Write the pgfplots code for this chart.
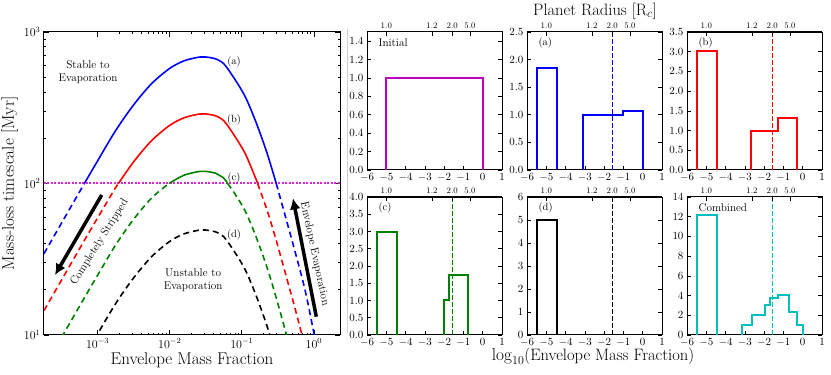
\documentclass[border=0pt]{standalone}
\usepackage{pgfplots}
\pgfplotsset{compat=1.18}
\usetikzlibrary{arrows.meta}
\definecolor{mplb}{rgb}{0,0,1}
\definecolor{mplr}{rgb}{1,0,0}
\definecolor{mplg}{rgb}{0,0.5,0}
\definecolor{mplc}{rgb}{0,0.75,0.75}
\definecolor{mplm}{rgb}{0.75,0,0.75}
\definecolor{dotm}{rgb}{0.85,0.15,0.85}
\pgfplotsset{
  fr/.style={axis line style={line width=1pt}, tick style={black, line width=0.7pt}},
  hist/.style={fr, scale only axis, width=135pt, height=138pt, anchor=south west,
    xmin=-6, xmax=1, ymin=0, xtick={-6,-5,...,1}, xtick pos=bottom, ytick pos=both,
    major tick length=4pt,
    tick label style={font=\fontsize{10.5}{12}\selectfont}},
  dec/.style={yticklabel style={/pgf/number format/.cd, fixed, fixed zerofill, precision=1}},
  histtop/.style={scale only axis, width=135pt, height=138pt, anchor=south west,
    xmin=-6, xmax=1, ymin=0, ymax=1, axis x line*=top, axis y line=none,
    axis line style={line width=1pt}, tick style={black, line width=0.7pt}, major tick length=4pt,
    xtick={-5,-2.63,-1.58,-0.66}, xticklabels={1.0,1.2,2.0,5.0},
    xticklabel style={font=\fontsize{8.5}{10}\selectfont}},
  hl/.style={line width=2pt, no marks},
  vl/.style={line width=0.9pt, dash pattern=on 4.5pt off 2.5pt, no marks},
  cs/.style={line width=1.6pt, no marks, smooth},
  cd/.style={line width=1.6pt, no marks, smooth, dash pattern=on 6pt off 4pt},
}
\begin{document}
\begin{tikzpicture}
\useasboundingbox (0,0) rectangle (831pt,375pt);
\draw[black!18, line width=0.8pt] (347pt,42pt) -- (347pt,346pt);
% ---------------- left panel ----------------
\begin{axis}[fr, at={(44pt,40pt)}, anchor=south west, scale only axis, width=296pt, height=303pt,
  xmode=log, ymode=log, xmin=1.8e-4, xmax=2.3, ymin=10, ymax=1000,
  xtick={1e-3,1e-2,1e-1,1}, ytick={10,100,1000},
  major tick length=5pt, minor tick length=2.5pt,
  tick label style={font=\fontsize{11.5}{13}\selectfont},
  xlabel={Envelope Mass Fraction}, ylabel={Mass-loss timescale [Myr]},
  label style={font=\fontsize{17}{20}\selectfont},
  xlabel style={yshift=2pt},
  ylabel style={yshift=-1pt}]
\addplot[draw=dotm, line width=2pt, dash pattern=on 2pt off 1.5pt] coordinates {(1.8e-4,100) (2.3,100)};
% (a)
\addplot[mplb, cd] coordinates {(1.80e-4,34.43) (3.162e-4,54.95) (6.531e-4,100)};
\addplot[mplb, cs] coordinates {(6.531e-4,100) (1e-3,141.3) (1.778e-3,223.9) (3.162e-3,331.1) (5.623e-3,457.1) (0.01,575.4) (0.01585,645.7) (0.0263,683.9) (0.03548,679.2) (0.04266,666.8) (0.05623,616.6) (0.07943,489.8) (0.1122,371.5) (0.1585,251.2) (0.2239,158.5) (0.300,100)};
\addplot[mplb, cd] coordinates {(0.300,100) (0.3981,61.66) (0.5623,33.88) (0.7586,19.50) (1.0116,10) (1.122,7.76)};
% (b)
\addplot[mplr, cd] coordinates {(1.80e-4,14.49) (3.162e-4,23.12) (6.531e-4,42.07) (1e-3,59.45) (1.778e-3,94.2) (1.941e-3,100)};
\addplot[mplr, cs] coordinates {(1.941e-3,100) (3.162e-3,139.3) (5.623e-3,192.3) (0.01,242.1) (0.01585,271.6) (0.0263,287.7) (0.03548,285.7) (0.04266,280.5) (0.05623,259.4) (0.07943,206.1) (0.1122,156.3) (0.1585,105.7) (0.1652,100)};
\addplot[mplr, cd] coordinates {(0.1652,100) (0.2239,66.7) (0.300,42.07) (0.3981,25.94) (0.5623,14.25) (0.7586,8.20)};
% (c)
\addplot[mplg, cd] coordinates {(3.162e-4,9.66) (6.531e-4,17.58) (1e-3,24.84) (1.778e-3,39.36) (3.162e-3,58.21) (5.623e-3,80.36) (9.716e-3,100)};
\addplot[mplg, cs] coordinates {(9.716e-3,100) (0.01585,113.5) (0.0263,120.2) (0.03548,119.4) (0.04266,117.2) (0.05623,108.4) (0.06345,100)};
\addplot[mplg, cd] coordinates {(0.06345,100) (0.07943,86.11) (0.1122,65.31) (0.1585,44.16) (0.2239,27.86) (0.300,17.58) (0.3981,10.84) (0.5623,5.956)};
% (d)
\addplot[black, cd] coordinates {(6.531e-4,7.21) (1e-3,10.19) (1.778e-3,16.14) (3.162e-3,23.87) (5.623e-3,32.96) (0.01,41.49) (0.01585,46.55) (0.0263,49.31) (0.03548,48.97) (0.04266,48.08) (0.05623,44.46) (0.07943,35.31) (0.1122,26.79) (0.1585,18.11) (0.2239,11.43) (0.300,7.21)};
% annotations
\node[font=\fontsize{10.5}{12}\selectfont] at (axis cs:0.078,631) {(a)};
\node[font=\fontsize{10.5}{12}\selectfont] at (axis cs:0.078,262) {(b)};
\node[font=\fontsize{10.5}{12}\selectfont] at (axis cs:0.078,108.6) {(c)};
\node[font=\fontsize{10.5}{12}\selectfont] at (axis cs:0.078,45.7) {(d)};
\node[font=\fontsize{11.2}{13}\selectfont, align=center] at (axis cs:7.35e-4,545) {Stable to\\Evaporation};
\node[font=\fontsize{11.2}{13}\selectfont, align=center] at (axis cs:0.0211,23.1) {Unstable to\\Evaporation};
\node[font=\fontsize{11.2}{13}\selectfont, rotate=58] at (axis cs:1.06e-3,40.9) {Completely Stripped};
\node[font=\fontsize{11.2}{13}\selectfont, rotate=-78] at (axis cs:1.02,34.3) {Envelope Evaporation};
\draw[line width=3.5pt, -{Latex[length=11pt,width=11pt]}] (axis cs:1.137e-3,84.0) -- (axis cs:2.56e-4,24.9);
\draw[line width=3.5pt, -{Latex[length=11pt,width=11pt]}] (axis cs:1.079,13.2) -- (axis cs:0.512,79.8);
\end{axis}
% ---------------- histograms ----------------
% Initial
\begin{axis}[hist, dec, at={(367pt,205pt)}, ymax=1.5, ytick={0,0.2,...,1.41}]
\addplot[mplm, hl] coordinates {(-5,0) (-5,1) (0,1) (0,0)};
\node[anchor=west, font=\fontsize{11.2}{13}\selectfont] at (rel axis cs:0.06,0.92) {Initial};
\end{axis}
\begin{axis}[histtop, at={(367pt,205pt)}]\addplot[draw=none] coordinates {(0,0)};\end{axis}
% (a)
\begin{axis}[hist, dec, at={(527pt,205pt)}, ymax=2.5, ytick={0,0.5,...,2.51}]
\addplot[mplb, hl] coordinates {(-5.48,0) (-5.48,1.84) (-4.47,1.84) (-4.47,0)};
\addplot[mplb, hl] coordinates {(-3.12,0) (-3.12,1.0) (-1.0,1.0) (-1.0,1.065) (0,1.065) (0,0)};
\addplot[mplb, vl] coordinates {(-1.58,0) (-1.58,2.5)};
\node[anchor=west, font=\fontsize{10.5}{12}\selectfont] at (rel axis cs:0.06,0.92) {(a)};
\end{axis}
\begin{axis}[histtop, at={(527pt,205pt)}]\addplot[draw=none] coordinates {(0,0)};\end{axis}
% (b)
\begin{axis}[hist, dec, at={(687pt,205pt)}, ymax=3.5, ytick={0,0.5,...,3.51}]
\addplot[mplr, hl] coordinates {(-5.48,0) (-5.48,3.01) (-4.47,3.01) (-4.47,0)};
\addplot[mplr, hl] coordinates {(-2.67,0) (-2.67,1.0) (-1.28,1.0) (-1.28,1.33) (-0.3,1.33) (-0.3,0)};
\addplot[mplr, vl] coordinates {(-1.58,0) (-1.58,3.5)};
\node[anchor=west, font=\fontsize{10.5}{12}\selectfont] at (rel axis cs:0.06,0.92) {(b)};
\end{axis}
\begin{axis}[histtop, at={(687pt,205pt)}]\addplot[draw=none] coordinates {(0,0)};\end{axis}
% (c)
\begin{axis}[hist, dec, at={(367pt,40pt)}, ymax=4.0, ytick={0,0.5,...,4.01}]
\addplot[mplg, hl] coordinates {(-5.48,0) (-5.48,3.0) (-4.47,3.0) (-4.47,0)};
\addplot[mplg, hl] coordinates {(-2.03,0) (-2.03,1.0) (-1.77,1.0) (-1.77,1.74) (-0.75,1.74) (-0.75,0)};
\addplot[mplg, vl] coordinates {(-1.58,0) (-1.58,4)};
\node[anchor=west, font=\fontsize{10.5}{12}\selectfont] at (rel axis cs:0.06,0.92) {(c)};
\end{axis}
\begin{axis}[histtop, at={(367pt,40pt)}]\addplot[draw=none] coordinates {(0,0)};\end{axis}
% (d)
\begin{axis}[hist, at={(527pt,40pt)}, ymax=6, ytick={0,1,...,6}]
\addplot[black, hl] coordinates {(-5.48,0) (-5.48,5.0) (-4.47,5.0) (-4.47,0)};
\addplot[black, vl] coordinates {(-1.58,0) (-1.58,6)};
\node[anchor=west, font=\fontsize{10.5}{12}\selectfont] at (rel axis cs:0.06,0.92) {(d)};
\end{axis}
\begin{axis}[histtop, at={(527pt,40pt)}]\addplot[draw=none] coordinates {(0,0)};\end{axis}
% Combined
\begin{axis}[hist, at={(687pt,40pt)}, ymax=14, ytick={0,2,...,14}]
\addplot[mplc, hl] coordinates {(-5.48,0) (-5.48,12.17) (-4.47,12.17) (-4.47,0)};
\addplot[mplc, hl] coordinates {(-3.13,0) (-3.13,1.0) (-2.61,1.0) (-2.61,2.0) (-1.97,2.0) (-1.97,3.0) (-1.71,3.0) (-1.71,3.78) (-1.28,3.78) (-1.28,4.1) (-0.73,4.1) (-0.73,2.38) (-0.31,2.38) (-0.31,1.05) (0,1.05) (0,0)};
\addplot[mplc, vl] coordinates {(-1.58,0) (-1.58,14)};
\node[anchor=west, font=\fontsize{11.2}{13}\selectfont] at (rel axis cs:0.06,0.92) {Combined};
\end{axis}
\begin{axis}[histtop, at={(687pt,40pt)}]\addplot[draw=none] coordinates {(0,0)};\end{axis}
% common labels
\node[font=\fontsize{16.5}{19}\selectfont] at (595pt,364pt) {Planet Radius [R$_c$]};
\node[font=\fontsize{16.5}{19}\selectfont] at (593pt,19pt) {$\log_{10}$(Envelope Mass Fraction)};
\end{tikzpicture}
\end{document}
